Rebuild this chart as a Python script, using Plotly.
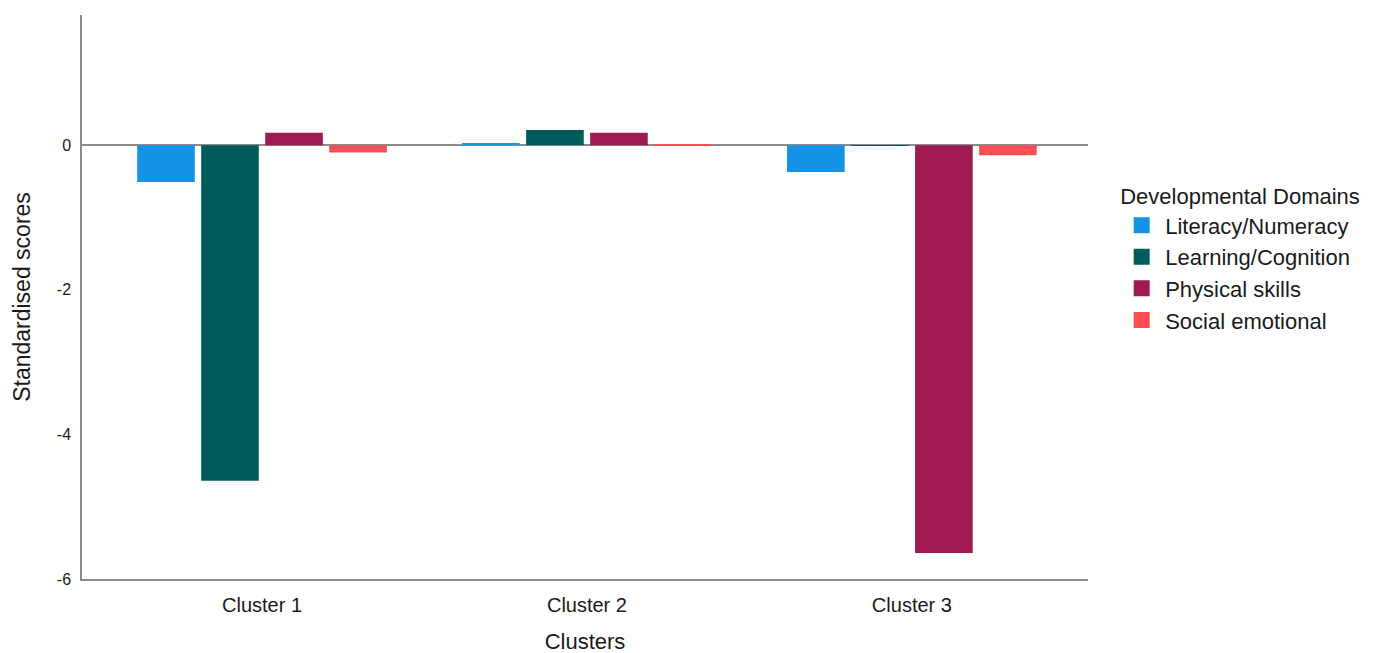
import plotly.graph_objects as go

clusters = ["Cluster 1", "Cluster 2", "Cluster 3"]
literacy = [-0.51, 0.03, -0.37]
learning = [-4.64, 0.21, -0.005]
physical = [0.17, 0.17, -5.64]
social = [-0.10, 0.01, -0.14]

series = [
    ("Literacy/Numeracy", literacy, "#1492E6"),
    ("Learning/Cognition", learning, "#005C5A"),
    ("Physical skills", physical, "#9E1A51"),
    ("Social emotional", social, "#FA4D56"),
]

fig = go.Figure()
for name, vals, col in series:
    fig.add_trace(go.Bar(x=clusters, y=vals, name=name, showlegend=False,
                         marker=dict(color=col, line=dict(width=0))))
for name, vals, col in series:
    fig.add_trace(go.Scatter(x=[None], y=[None], mode="markers", name=name,
                             marker=dict(symbol="square", size=18, color=col)))

fig.update_layout(
    barmode="group",
    bargap=0.212,
    bargroupgap=0.1,
    width=1385, height=653,
    margin=dict(l=74, r=305, t=7, b=82),
    paper_bgcolor="white", plot_bgcolor="white",
    font=dict(family="Liberation Sans, Arial, sans-serif", color="#1a1a1a"),
    legend=dict(
        title=dict(text="Developmental Domains", font=dict(size=22)),
        font=dict(size=22),
        x=1.03, y=0.715, xanchor="left", yanchor="top",
        tracegroupgap=0, itemwidth=37, itemsizing="trace",
    ),
    showlegend=True,
)
fig.update_xaxes(
    range=[-0.554, 2.542],
    showline=True, linecolor="#8c8c8c", linewidth=1.5,
    tickfont=dict(size=20), ticks="", ticklabelstandoff=7,
    title=dict(text="Clusters", font=dict(size=22), standoff=19),
)
fig.update_yaxes(
    range=[-6, 1.8], tickvals=[0, -2, -4, -6], ticktext=["0", "-2", "-4", "-6"],
    showline=True, linecolor="#8c8c8c", linewidth=1.5,
    showgrid=False, zeroline=True, zerolinecolor="#8c8c8c", zerolinewidth=1.5,
    tickfont=dict(size=16), ticks="", ticklabelstandoff=6,
    title=dict(text="Standardised scores", font=dict(size=23), standoff=20),
)
fig.write_html("out.html")
